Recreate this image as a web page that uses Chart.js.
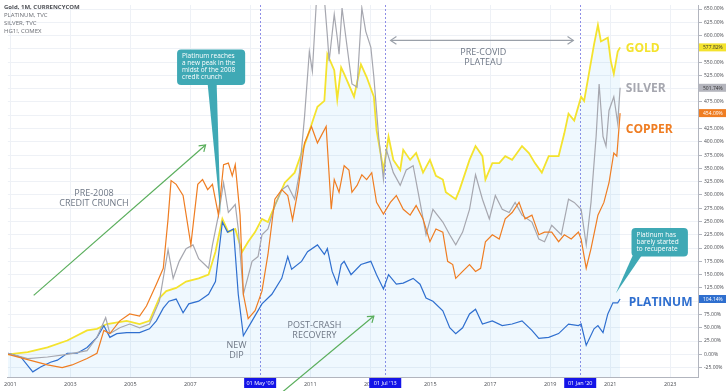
<!DOCTYPE html>
<html>
<head>
<meta charset="utf-8">
<script src="https://cdn.jsdelivr.net/npm/chart.js@4/dist/chart.umd.min.js"></script>
<style>
    html, body { margin: 0; padding: 0; background: #fff; }
    #wrap { width: 728px; height: 391px; position: relative; }
</style>
</head>
<body>
<div id="wrap"><canvas id="chart"></canvas></div>
<script>
// monthly % change since Dec 2000 as [year, percent]
const gold = [
    [2000.92, 0], [2001.58, 4], [2002.24, 13], [2002.90, 26], [2003.56, 45], [2003.89, 48],
    [2004.22, 57], [2004.88, 63], [2005.31, 57], [2005.64, 63], [2005.97, 106], [2006.20, 119],
    [2006.53, 125], [2006.86, 137], [2007.28, 143], [2007.61, 150], [2007.84, 193], [2008.07, 255],
    [2008.27, 230], [2008.50, 236], [2008.73, 193], [2008.93, 212], [2009.16, 230], [2009.39, 255],
    [2009.59, 249], [2009.82, 280], [2010.15, 323], [2010.48, 342], [2010.71, 379], [2010.91, 410],
    [2011.24, 466], [2011.47, 477], [2011.57, 565], [2011.80, 535], [2011.90, 480], [2012.03, 540],
    [2012.13, 528], [2012.46, 485], [2012.69, 546], [2012.88, 522], [2013.12, 485], [2013.21, 422],
    [2013.44, 347], [2013.61, 410], [2013.77, 366], [2014.00, 347], [2014.10, 385], [2014.33, 366],
    [2014.53, 379], [2014.76, 342], [2014.99, 366], [2015.19, 336], [2015.42, 329], [2015.52, 305],
    [2015.85, 292], [2015.98, 310], [2016.31, 366], [2016.51, 392], [2016.74, 373], [2016.84, 329],
    [2017.07, 360], [2017.30, 360], [2017.50, 373], [2017.73, 366], [2018.06, 392], [2018.29, 379],
    [2018.49, 360], [2018.72, 342], [2018.95, 373], [2019.28, 373], [2019.47, 416], [2019.61, 453],
    [2019.80, 440], [2020.03, 485], [2020.13, 477], [2020.27, 522], [2020.46, 583], [2020.59, 620],
    [2020.69, 589], [2020.92, 596], [2021.02, 552], [2021.12, 528], [2021.25, 570], [2021.33, 577.82]
];

const platinum = [
    [2000.92, 2], [2001.35, -5], [2001.75, -33], [2002.01, -24], [2002.34, -15], [2002.57, -11],
    [2002.90, 2], [2003.23, 2], [2003.56, 13], [2003.89, 32], [2004.12, 54], [2004.32, 32],
    [2004.55, 39], [2004.88, 41], [2005.31, 41], [2005.64, 48], [2005.87, 63], [2006.10, 87],
    [2006.29, 100], [2006.53, 104], [2006.76, 78], [2006.95, 95], [2007.28, 100], [2007.61, 113],
    [2007.84, 137], [2008.07, 249], [2008.24, 230], [2008.44, 236], [2008.60, 113], [2008.77, 35],
    [2009.06, 63], [2009.39, 95], [2009.72, 113], [2010.05, 143], [2010.25, 184], [2010.38, 160],
    [2010.71, 175], [2010.91, 193], [2011.24, 206], [2011.47, 188], [2011.57, 199], [2011.73, 156],
    [2011.90, 132], [2012.03, 169], [2012.13, 175], [2012.36, 150], [2012.69, 169], [2013.02, 175],
    [2013.21, 150], [2013.44, 123], [2013.61, 150], [2013.87, 132], [2014.10, 134], [2014.43, 143],
    [2014.66, 132], [2014.86, 106], [2015.09, 100], [2015.42, 82], [2015.65, 50], [2015.85, 39],
    [2016.08, 50], [2016.31, 76], [2016.51, 85], [2016.74, 57], [2017.07, 63], [2017.40, 54],
    [2017.73, 57], [2018.06, 63], [2018.39, 45], [2018.62, 30], [2018.95, 32], [2019.28, 39],
    [2019.61, 57], [2019.94, 54], [2020.03, 57], [2020.20, 17], [2020.46, 48], [2020.59, 54],
    [2020.76, 41], [2020.92, 76], [2021.09, 97], [2021.25, 97], [2021.33, 104.14]
];

const silver = [
    [2000.92, 2], [2001.58, -8], [2002.24, -5], [2002.90, 0], [2003.56, 7], [2003.89, 32],
    [2004.18, 69], [2004.32, 39], [2004.65, 50], [2004.98, 57], [2005.31, 50], [2005.64, 57],
    [2005.97, 100], [2006.26, 197], [2006.43, 143], [2006.63, 175], [2006.86, 199], [2007.09, 206],
    [2007.28, 180], [2007.61, 162], [2007.74, 206], [2007.94, 262], [2008.11, 323], [2008.27, 267],
    [2008.50, 282], [2008.60, 236], [2008.77, 113], [2009.06, 175], [2009.26, 184], [2009.39, 225],
    [2009.59, 236], [2009.82, 280], [2010.05, 310], [2010.25, 318], [2010.48, 292], [2010.64, 342],
    [2010.81, 448], [2010.97, 570], [2011.07, 533], [2011.20, 660], [2011.33, 715], [2011.47, 670],
    [2011.57, 600], [2011.63, 552], [2011.80, 640], [2011.90, 596], [2011.96, 565], [2012.06, 652],
    [2012.23, 578], [2012.39, 509], [2012.56, 503], [2012.72, 652], [2012.85, 608], [2013.02, 578],
    [2013.12, 522], [2013.28, 410], [2013.44, 329], [2013.54, 385], [2013.77, 342], [2014.00, 318],
    [2014.20, 347], [2014.43, 355], [2014.66, 286], [2014.86, 225], [2015.09, 273], [2015.42, 249],
    [2015.65, 225], [2015.85, 206], [2016.08, 230], [2016.31, 273], [2016.51, 338], [2016.74, 292],
    [2016.97, 255], [2017.17, 299], [2017.40, 273], [2017.63, 267], [2017.83, 286], [2018.06, 262],
    [2018.39, 249], [2018.62, 217], [2018.81, 212], [2019.05, 243], [2019.37, 225], [2019.61, 292],
    [2019.80, 286], [2020.03, 273], [2020.20, 206], [2020.36, 286], [2020.53, 410], [2020.63, 509],
    [2020.76, 410], [2020.86, 392], [2020.96, 459], [2021.12, 485], [2021.25, 435], [2021.33, 501.74]
];

const copper = [
    [2000.92, 0], [2001.58, -10], [2002.24, -20], [2002.73, -25], [2003.06, -20], [2003.56, -8],
    [2003.89, 2], [2004.12, 45], [2004.32, 39], [2004.65, 63], [2004.98, 76], [2005.31, 72],
    [2005.54, 91], [2005.87, 132], [2006.10, 162], [2006.26, 255], [2006.36, 327], [2006.53, 320],
    [2006.76, 299], [2007.02, 206], [2007.25, 320], [2007.41, 329], [2007.58, 310], [2007.74, 320],
    [2007.94, 262], [2008.11, 357], [2008.27, 360], [2008.40, 336], [2008.50, 357], [2008.66, 262],
    [2008.77, 113], [2008.93, 67], [2009.16, 82], [2009.39, 119], [2009.59, 188], [2009.82, 292],
    [2010.05, 310], [2010.25, 299], [2010.41, 253], [2010.58, 305], [2010.81, 398], [2011.04, 429],
    [2011.24, 398], [2011.53, 429], [2011.70, 273], [2011.80, 329], [2011.96, 305], [2012.13, 355],
    [2012.29, 347], [2012.39, 305], [2012.56, 318], [2012.72, 338], [2012.88, 329], [2013.05, 342],
    [2013.21, 286], [2013.44, 264], [2013.67, 286], [2013.87, 299], [2014.10, 273], [2014.33, 262],
    [2014.53, 280], [2014.76, 255], [2014.99, 212], [2015.19, 236], [2015.42, 230], [2015.58, 175],
    [2015.75, 169], [2015.85, 143], [2016.08, 156], [2016.31, 169], [2016.51, 156], [2016.68, 162],
    [2016.84, 212], [2017.07, 225], [2017.30, 217], [2017.50, 255], [2017.73, 267], [2017.96, 286],
    [2018.16, 255], [2018.39, 262], [2018.62, 225], [2018.81, 230], [2019.05, 230], [2019.28, 212],
    [2019.47, 225], [2019.70, 217], [2019.94, 230], [2020.03, 217], [2020.20, 162], [2020.36, 199],
    [2020.59, 262], [2020.79, 286], [2020.96, 323], [2021.12, 379], [2021.22, 373], [2021.33, 454.09]
];

const yearTicks = [2001, 2003, 2005, 2007, 2009, 2011, 2013, 2015, 2017, 2019, 2021, 2023];
const percentTicks = [-25, 0, 25, 50, 75, 100, 125, 150, 175, 200, 225, 250, 275, 300, 325, 350,
    375, 400, 425, 450, 475, 500, 525, 550, 575, 600, 625, 650];
const markerDates = [2009.33, 2013.5, 2020.0];
const markerLabels = ["01 May '09", "01 Jul '13", "01 Jan '20"];

const C_GOLD = '#f4e32e';
const C_SILVER = '#a6a7af';
const C_COPPER = '#ef7d22';
const C_PLAT = '#2f6fcf';
const C_TEAL = '#3fa9b5';
const C_GREEN = '#5aae5c';
const C_NOTE = '#6f7886';
const FONT = '"Open Sans", "DejaVu Sans", sans-serif';

const toXY = arr => arr.map(([x, y]) => ({ x, y }));

function arrowHead(ctx, x1, y1, x2, y2, size) {
    const a = Math.atan2(y2 - y1, x2 - x1);
    ctx.beginPath();
    ctx.moveTo(x2 - size * Math.cos(a - 0.6), y2 - size * Math.sin(a - 0.6));
    ctx.lineTo(x2, y2);
    ctx.lineTo(x2 - size * Math.cos(a + 0.6), y2 - size * Math.sin(a + 0.6));
    ctx.stroke();
}

function arrow(ctx, x1, y1, x2, y2, color, both) {
    ctx.save();
    ctx.strokeStyle = color;
    ctx.lineWidth = 1.2;
    ctx.beginPath();
    ctx.moveTo(x1, y1);
    ctx.lineTo(x2, y2);
    ctx.stroke();
    arrowHead(ctx, x1, y1, x2, y2, 7);
    if (both) arrowHead(ctx, x2, y2, x1, y1, 7);
    ctx.restore();
}

function callout(ctx, left, top, right, bottom, tail, lines) {
    ctx.save();
    ctx.fillStyle = C_TEAL;
    ctx.beginPath();
    ctx.roundRect(left, top, right - left, bottom - top, 4);
    ctx.fill();
    ctx.beginPath();
    ctx.moveTo(tail[0], bottom - 1);
    ctx.lineTo(tail[1], bottom - 1);
    ctx.lineTo(tail[2], tail[3]);
    ctx.closePath();
    ctx.fill();
    ctx.fillStyle = '#ffffff';
    ctx.font = '6.5px ' + FONT;
    ctx.textAlign = 'left';
    ctx.textBaseline = 'middle';
    lines.forEach((t, i) => ctx.fillText(t, left + 5, top + 7 + i * 7));
    ctx.restore();
}

function label(ctx, lines, x, y, color, size, weight, align) {
    ctx.save();
    ctx.fillStyle = color;
    ctx.font = `${weight} ${size}px ${FONT}`;
    ctx.textAlign = align;
    ctx.textBaseline = 'middle';
    lines.forEach((t, i) => ctx.fillText(t, x, y + i * (size + 1)));
    ctx.restore();
}

const overlay = {
    id: 'overlay',
    beforeDatasetsDraw(chart) {
        const { ctx, chartArea, scales } = chart;
        ctx.save();
        ctx.strokeStyle = '#8e8ee6';
        ctx.lineWidth = 1;
        ctx.setLineDash([2, 2]);
        markerDates.forEach(d => {
            const x = Math.round(scales.x.getPixelForValue(d)) + 0.5;
            ctx.beginPath();
            ctx.moveTo(x, chartArea.top);
            ctx.lineTo(x, chartArea.bottom);
            ctx.stroke();
        });
        ctx.restore();
    },
    afterDraw(chart) {
        const { ctx, chartArea, scales } = chart;
        const X = v => scales.x.getPixelForValue(v);
        const Y = v => scales.y.getPixelForValue(v);

        // series names at the right
        label(ctx, ['GOLD'], X(2021.52), Y(576), C_GOLD, 12, 700, 'left');
        label(ctx, ['SILVER'], X(2021.52), Y(500), C_SILVER, 12, 700, 'left');
        label(ctx, ['COPPER'], X(2021.52), Y(424), C_COPPER, 12, 700, 'left');
        label(ctx, ['PLATINUM'], X(2021.62), Y(97), C_PLAT, 12, 700, 'left');

        // phase notes
        label(ctx, ['PRE-2008', 'CREDIT CRUNCH'], X(2003.79), Y(303), C_NOTE, 9, 400, 'center');
        label(ctx, ['NEW', 'DIP'], X(2008.54), Y(17), C_NOTE, 9, 400, 'center');
        label(ctx, ['POST-CRASH', 'RECOVERY'], X(2011.14), Y(54), C_NOTE, 9, 400, 'center');
        label(ctx, ['PRE-COVID', 'PLATEAU'], X(2016.77), Y(568), C_NOTE, 9, 400, 'center');

        arrow(ctx, X(2001.78), Y(111), X(2007.51), Y(394), C_GREEN, false);
        arrow(ctx, X(2010.05), Y(-72), X(2013.12), Y(72), C_GREEN, false);
        arrow(ctx, X(2013.68), Y(591), X(2019.77), Y(591), '#9aa0a9', true);

        callout(ctx, X(2006.56), Y(574), X(2008.83), Y(507),
            [X(2007.58), X(2007.88), X(2008.01), Y(262)],
            ['Platinum reaches', 'a new peak in the', 'midst of the 2008', 'credit crunch']);
        callout(ctx, X(2021.71), Y(238), X(2023.59), Y(184),
            [X(2021.75), X(2022.05), X(2021.19), Y(115)],
            ['Platinum has', 'barely started', 'to recuperate']);

        // date markers on the time axis
        ctx.save();
        ctx.font = '5.5px ' + FONT;
        ctx.textAlign = 'center';
        ctx.textBaseline = 'middle';
        markerDates.forEach((d, i) => {
            const x = X(d);
            ctx.fillStyle = '#1414e8';
            ctx.fillRect(x - 16, chartArea.bottom + 1, 32, 10);
            ctx.fillStyle = '#ffffff';
            ctx.fillText(markerLabels[i], x, chartArea.bottom + 6.5);
        });
        ctx.restore();

        // last value tags on the price axis
        const tags = [
            [gold, C_GOLD, '#333333'],
            [silver, '#b4b5bd', '#333333'],
            [copper, C_COPPER, '#ffffff'],
            [platinum, C_PLAT, '#ffffff']
        ];
        ctx.save();
        ctx.font = '5px ' + FONT;
        ctx.textAlign = 'left';
        ctx.textBaseline = 'middle';
        tags.forEach(([series, bg, fg]) => {
            const v = series[series.length - 1][1];
            const y = Y(v);
            ctx.fillStyle = bg;
            ctx.fillRect(chartArea.right, y - 4, 27, 8);
            ctx.fillStyle = fg;
            ctx.fillText(v.toFixed(2) + '%', chartArea.right + 4, y + 0.5);
        });
        ctx.restore();

        // title block
        ctx.save();
        ctx.textAlign = 'left';
        ctx.textBaseline = 'middle';
        ctx.fillStyle = '#4d4f55';
        ctx.font = 'bold 6px ' + FONT;
        ctx.fillText('Gold, 1M, CURRENCYCOM', 4, 7);
        ctx.font = '6px ' + FONT;
        ctx.fillStyle = '#6a6d74';
        ['PLATINUM, TVC', 'SILVER, TVC', 'HG1!, COMEX'].forEach((t, i) => ctx.fillText(t, 4, 15 + i * 8));
        ctx.restore();
    }
};

new Chart(document.getElementById('chart'), {
    type: 'line',
    data: {
        datasets: [
            { label: 'Copper', data: toXY(copper), borderColor: C_COPPER, borderWidth: 1.2 },
            { label: 'Silver', data: toXY(silver), borderColor: C_SILVER, borderWidth: 1.2 },
            { label: 'Platinum', data: toXY(platinum), borderColor: C_PLAT, borderWidth: 1.2 },
            {
                label: 'Gold', data: toXY(gold), borderColor: C_GOLD, borderWidth: 1.8,
                fill: 'start', backgroundColor: 'rgba(33,150,243,0.07)'
            }
        ]
    },
    plugins: [overlay],
    options: {
        responsive: true,
        maintainAspectRatio: false,
        animation: false,
        layout: { padding: 0 },
        elements: { point: { radius: 0 }, line: { tension: 0 } },
        plugins: {
            legend: { display: false },
            tooltip: { enabled: false }
        },
        scales: {
            x: {
                type: 'linear',
                min: 2000.92,
                max: 2023.96,
                afterFit: s => { s.height = 14; },
                afterBuildTicks: s => { s.ticks = yearTicks.map(value => ({ value })); },
                grid: { color: '#eef1f6', drawTicks: false },
                border: { color: '#b2b5be' },
                ticks: {
                    padding: 4,
                    color: '#4a4c52',
                    font: { size: 5.5, family: FONT },
                    maxRotation: 0,
                    autoSkip: false,
                    callback: v => String(v)
                }
            },
            y: {
                position: 'right',
                min: -42.7,
                max: 657.6,
                afterFit: s => { s.width = 29; },
                afterBuildTicks: s => { s.ticks = percentTicks.map(value => ({ value })); },
                grid: { color: '#eef1f6', tickColor: '#b2b5be', tickLength: 3 },
                border: { color: '#b2b5be' },
                ticks: {
                    padding: 2,
                    color: '#4a4c52',
                    font: { size: 5, family: FONT },
                    autoSkip: false,
                    callback: v => v.toFixed(2) + '%'
                }
            }
        }
    }
});
</script>
</body>
</html>
